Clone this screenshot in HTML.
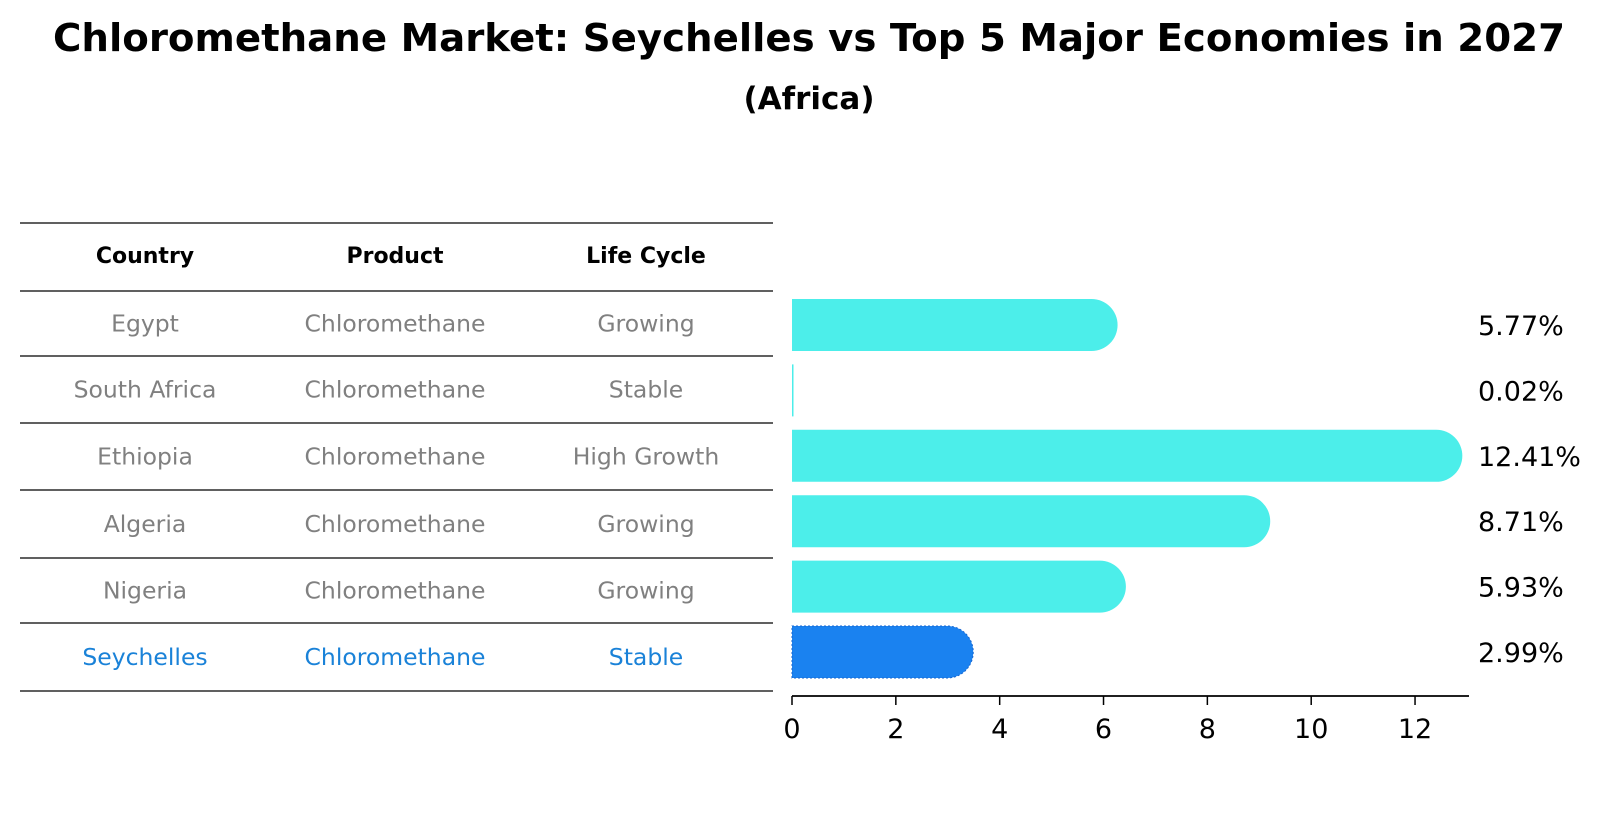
<!DOCTYPE html>
<html><head><meta charset="utf-8"><style>
body{margin:0;background:#fff;font-family:"DejaVu Sans","Liberation Sans",sans-serif;}
</style></head><body>
<svg id="chart" width="1604" height="823" xmlns="http://www.w3.org/2000/svg" font-family="DejaVu Sans, Liberation Sans, sans-serif">
<text x="809" y="51" text-anchor="middle" font-size="38" font-weight="bold" textLength="1512" lengthAdjust="spacingAndGlyphs">Chloromethane Market: Seychelles vs Top 5 Major Economies in 2027</text>
<text x="809" y="109" text-anchor="middle" font-size="31" font-weight="bold">(Africa)</text>
<g id="table"></g>
<g id="bars"></g>
<g id="axis"></g>
</svg>
<script>
const countries=["Egypt","South Africa","Ethiopia","Algeria","Nigeria","Seychelles"];
const products=["Chloromethane","Chloromethane","Chloromethane","Chloromethane","Chloromethane","Chloromethane"];
const lifeCycles=["Growing","Stable","High Growth","Growing","Growing","Stable"];
const values=[5.77,0.02,12.41,8.71,5.93,2.99];
const valueLabels=["5.77%","0.02%","12.41%","8.71%","5.93%","2.99%"];
const ticks=[0,2,4,6,8,10,12];
const NS="http://www.w3.org/2000/svg";
function mk(t,a,p,txt){const e=document.createElementNS(NS,t);for(const k in a)e.setAttribute(k,a[k]);if(txt!==undefined)e.textContent=txt;p.appendChild(e);return e;}
const x=v=>792+v*51.92;
const rowY=i=>325+i*65.4;
const tbl=document.getElementById('table');
const lineYs=[223,291,356,423,490,558,623,691];
lineYs.forEach(y=>{const l=mk('line',{x1:20,x2:773,y1:y,y2:y,stroke:'#000','stroke-width':1.2},tbl);

});
const colX=[145,395,646];
["Country","Product","Life Cycle"].forEach((h,j)=>{const t=mk('text',{x:colX[j],y:263,'text-anchor':'middle','font-size':22,'font-weight':'bold'},tbl,h);

});
countries.forEach((c,i)=>{const col=c==="Seychelles"?"#1a82d8":"#808080";
const by=(lineYs[i+1]+lineYs[i+2])/2+8;
[c,products[i],lifeCycles[i]].forEach((s,j)=>{const t=mk('text',{x:colX[j],y:by,'text-anchor':'middle','font-size':23.5,fill:col},tbl,s);

});});
const bars=document.getElementById('bars');
const h=52,r=26;
values.forEach((v,i)=>{const cy=rowY(i);const hl=countries[i]==="Seychelles";const fill=hl?"#1a82f0":"#4ceeea";
const x0=x(0),x1=x(v);
let d;
if(v<0.1){d=`M${x0} ${cy-h/2}H${x0+1.5}V${cy+h/2}H${x0}Z`;}
else d=`M${x0} ${cy-h/2}H${x1}A${r} ${r} 0 0 1 ${x1} ${cy+h/2}H${x0}Z`;
const p=mk('path',{d:d,fill:fill},bars);
if(hl){p.setAttribute('stroke','#1565d0');p.setAttribute('stroke-dasharray','2 2');}


const t=mk('text',{x:1478,y:cy+10,'font-size':27},bars,valueLabels[i]);

});
const ax=document.getElementById('axis');
mk('line',{x1:792,x2:1469,y1:696,y2:696,stroke:'#000','stroke-width':1.8},ax);
ticks.forEach(v=>{mk('line',{x1:x(v),x2:x(v),y1:696,y2:705,stroke:'#000','stroke-width':1.5},ax);
const t=mk('text',{x:x(v),y:738,'text-anchor':'middle','font-size':27},ax,String(v));

});
</script>
</body></html>
